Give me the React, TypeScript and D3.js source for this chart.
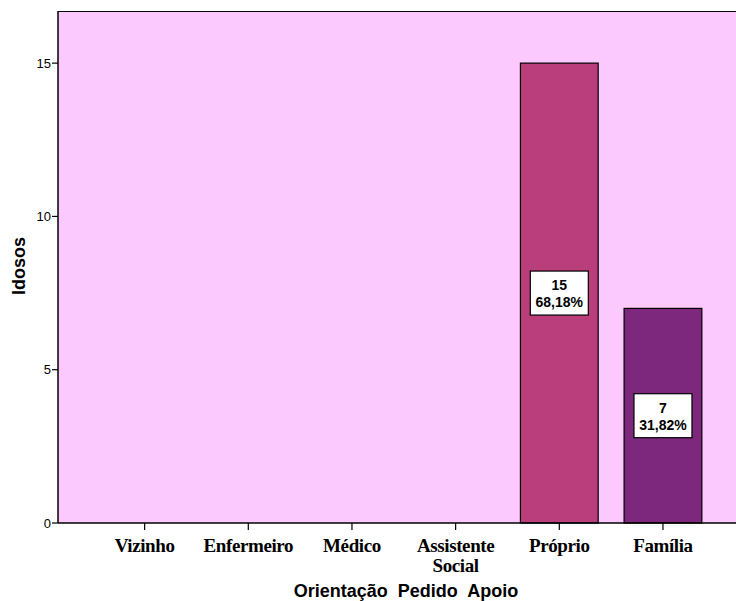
import React from "react";
import * as d3 from "d3";

const categories = ["Vizinho", "Enfermeiro", "Médico", "Assistente Social", "Próprio", "Família"];
const counts = [0, 0, 0, 0, 15, 7];
const percents = ["", "", "", "", "68,18%", "31,82%"];
const barColors = ["#B93E7B", "#B93E7B", "#B93E7B", "#B93E7B", "#B93E7B", "#7D287D"];
const yTicks = [0, 5, 10, 15];

export default function App() {
  const W = 736, H = 601;
  const left = 58, top = 11, bottom = 523;
  const y = d3.scaleLinear().domain([0, 16.7]).range([bottom, top]);
  const x = d3.scaleBand<string>().domain(categories).range([92.8, 714.8]).paddingInner(0.25).paddingOuter(0.125);
  const bw = x.bandwidth();
  return (
    <svg width={W} height={H} style={{ position: "absolute", left: 0, top: 0 }} fontFamily="Arial, Liberation Sans, sans-serif">
      <rect x={left} y={top} width={W - left + 10} height={bottom - top} fill="#FCC9FE" />
      <line x1={left} x2={W} y1={top + 0.5} y2={top + 0.5} stroke="#000" strokeWidth={1.2} />
      {categories.map((c, i) =>
        counts[i] > 0 ? (
          <rect key={c} x={x(c)} y={y(counts[i])} width={bw} height={y(0) - y(counts[i])} fill={barColors[i]} stroke="#000" strokeWidth={1.2} />
        ) : null
      )}
      {categories.map((c, i) => {
        if (counts[i] <= 0) return null;
        const cx = (x(c) as number) + bw / 2;
        const cy = y(counts[i] / 2);
        return (
          <g key={"l" + c}>
            <rect x={cx - 29} y={cy - 22} width={58} height={44} fill="#fff" stroke="#000" strokeWidth={1.2} />
            <text x={cx} y={cy - 3} textAnchor="middle" fontSize={14} fontWeight="bold">{counts[i]}</text>
            <text x={cx} y={cy + 14} textAnchor="middle" fontSize={14} fontWeight="bold">{percents[i]}</text>
          </g>
        );
      })}
      <line x1={left} x2={left} y1={top} y2={bottom} stroke="#000" strokeWidth={1.5} />
      <line x1={left} x2={W} y1={bottom} y2={bottom} stroke="#000" strokeWidth={1.5} />
      {yTicks.map((t) => (
        <g key={t}>
          <line x1={left - 6} x2={left} y1={y(t)} y2={y(t)} stroke="#000" strokeWidth={1.2} />
          <text x={left - 7} y={y(t) + 4.5} textAnchor="end" fontSize={13}>{t}</text>
        </g>
      ))}
      {categories.map((c) => {
        const cx = (x(c) as number) + bw / 2;
        const lines = c === "Assistente Social" ? ["Assistente", "Social"] : [c];
        return (
          <g key={"t" + c}>
            <line x1={cx} x2={cx} y1={bottom} y2={bottom + 7} stroke="#000" strokeWidth={1.2} />
            {lines.map((ln, j) => (
              <text key={j} x={cx} y={552 + j * 20} textAnchor="middle" fontSize={19} fontWeight="bold" fontFamily="Liberation Serif, Times New Roman, serif" letterSpacing={-0.4}>{ln}</text>
            ))}
          </g>
        );
      })}
      <text x={406} y={597} textAnchor="middle" fontSize={18} fontWeight="bold" wordSpacing={5}>Orientação Pedido Apoio</text>
      <text transform={`translate(25,266) rotate(-90)`} textAnchor="middle" fontSize={18} fontWeight="bold">Idosos</text>
    </svg>
  );
}
